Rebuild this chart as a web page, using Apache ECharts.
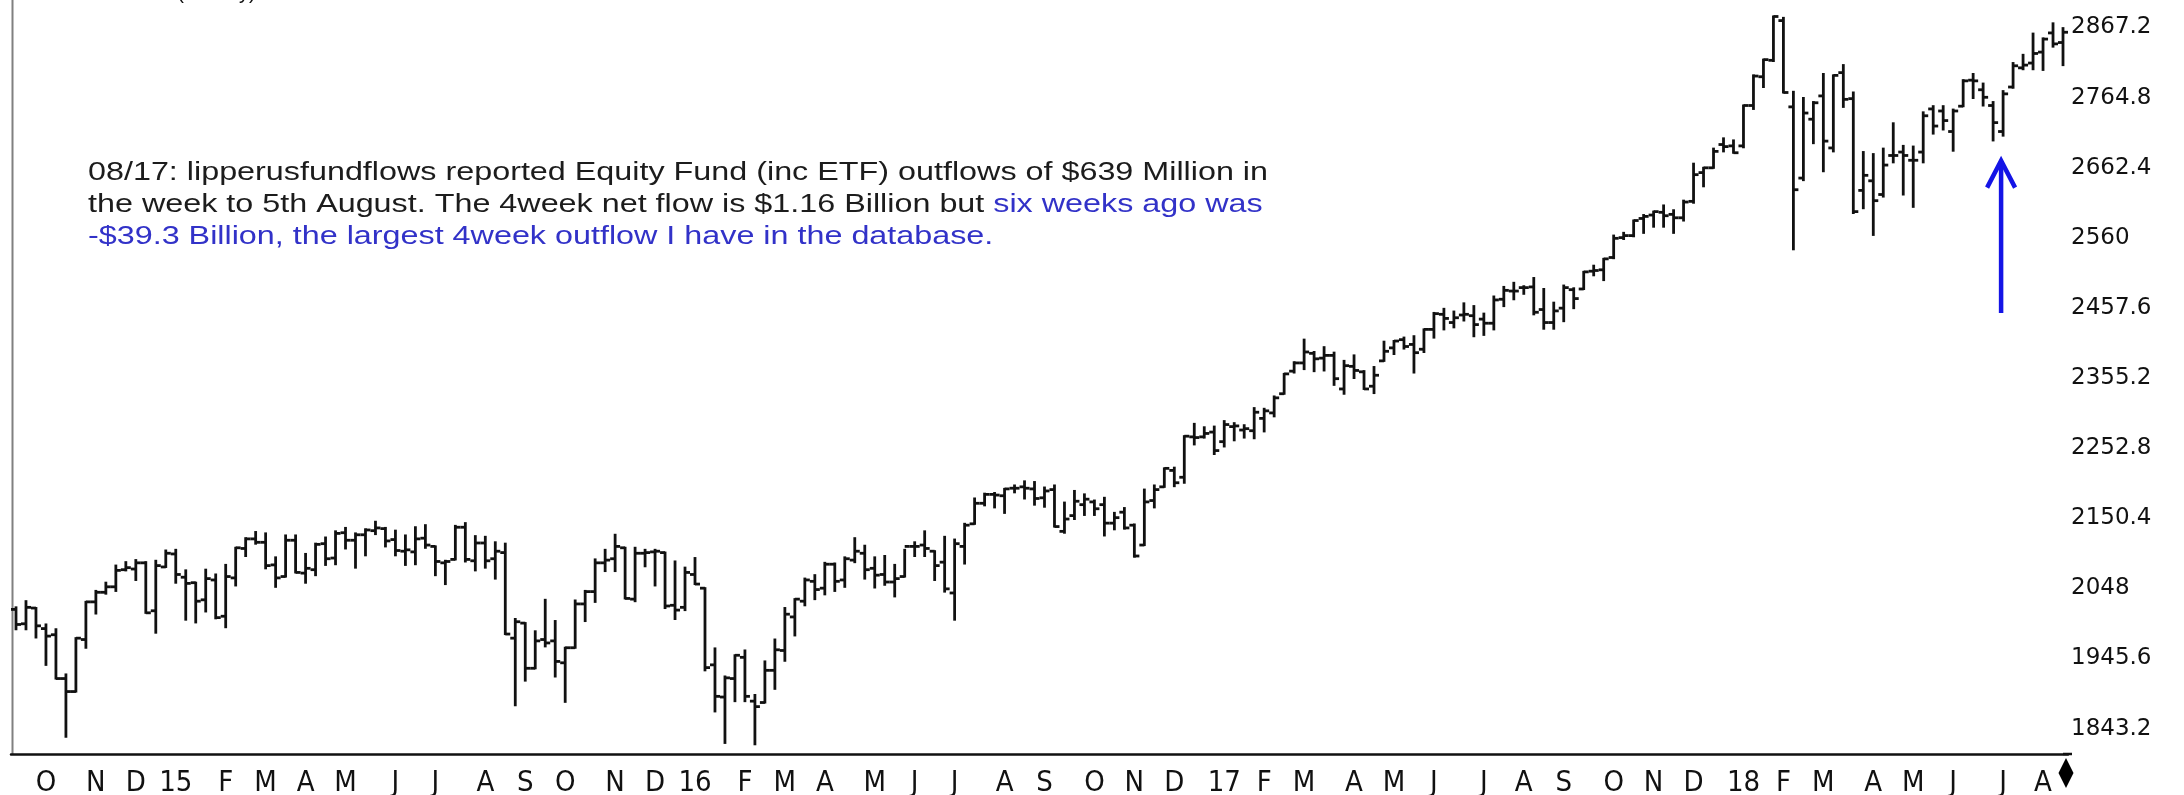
<!DOCTYPE html>
<html>
<head>
<meta charset="utf-8">
<title>S&P 500 weekly</title>
<script src="https://cdn.jsdelivr.net/npm/echarts@6/dist/echarts.min.js"></script>
<style>
  html, body { margin: 0; padding: 0; background: #fff; }
  #chart { width: 2184px; height: 795px; }
</style>
</head>
<body>
<div id="chart"></div>
<script>
// weekly bars, one per week, first week ends 2014-09-12, last ends 2018-08-17
var firstWeek = '2014-09-12'

var opens = [
  2007, 1986, 2009, 1979, 1970, 1906, 1887, 1963, 2018, 2032, 2040, 2065, 2066, 2075, 2005, 2069,
  2088, 2054, 2046, 2021, 2050, 1997, 2053, 2096, 2110, 2105, 2072, 2055, 2108, 2060, 2065, 2103,
  2082, 2119, 2108, 2116, 2122, 2125, 2109, 2092, 2091, 2111, 2099, 2075, 2080, 2127, 2078, 2104,
  2081, 2090, 1965, 1987, 1921, 1963, 1961, 1929, 1951, 2015, 2033, 2075, 2081, 2097, 2022, 2089,
  2091, 2090, 2013, 2010, 2058,
  2038, 1926, 1879, 1906, 1937, 1873, 1871, 1918, 1947, 1996, 2019, 2048, 2038, 2073, 2050, 2079,
  2089, 2067, 2058, 2047, 2055, 2099, 2101, 2092, 2076, 2031, 2099, 2132, 2162, 2175, 2173, 2184,
  2186, 2183, 2170, 2182, 2121, 2144, 2160, 2164, 2160, 2133, 2149, 2130, 2101, 2166, 2186, 2210,
  2200, 2259, 2259, 2266,
  2252, 2274, 2269, 2268, 2286, 2294, 2322, 2355, 2367, 2381, 2374, 2378, 2329, 2362, 2354, 2333,
  2370, 2389, 2401, 2394, 2387, 2416, 2438, 2426, 2437, 2436, 2431, 2425, 2460, 2472, 2477, 2478,
  2445, 2426, 2447, 2474, 2475, 2501, 2503, 2521, 2550, 2553, 2578, 2583, 2587, 2584, 2579, 2603,
  2645, 2652, 2686, 2684,
  2684, 2743, 2785, 2809, 2867, 2741, 2637, 2723, 2757, 2681, 2791, 2753, 2619, 2633, 2613, 2670,
  2675, 2663, 2675, 2738, 2735, 2705, 2742, 2780, 2766, 2743, 2705, 2770, 2798, 2805, 2821, 2849,
  2835
]
var highs = [
  2010, 2019, 2009, 1985, 1978, 1912, 1965, 2018, 2034, 2046, 2071, 2076, 2079, 2076, 2078, 2093,
  2094, 2064, 2046, 2065, 2058, 2072, 2097, 2111, 2120, 2118, 2083, 2115, 2115, 2088, 2103, 2112,
  2121, 2126, 2118, 2124, 2135, 2126, 2122, 2115, 2127, 2130, 2099, 2078, 2129, 2133, 2114, 2113,
  2105, 2103, 1993, 1987, 1975, 2021, 1990, 1951, 2020, 2034, 2080, 2094, 2116, 2097, 2097, 2094,
  2094, 2090, 2077, 2068, 2082,
  2038, 1950, 1909, 1940, 1947, 1882, 1931, 1963, 2009, 2022, 2052, 2057, 2075, 2074, 2083, 2111,
  2100, 2083, 2085, 2072, 2094, 2105, 2121, 2092, 2113, 2109, 2132, 2169, 2176, 2177, 2183, 2188,
  2194, 2193, 2185, 2188, 2163, 2180, 2175, 2166, 2170, 2148, 2155, 2131, 2182, 2188, 2213, 2214,
  2260, 2278, 2273, 2274,
  2282, 2279, 2276, 2301, 2300, 2318, 2351, 2368, 2401, 2383, 2390, 2382, 2370, 2378, 2355, 2361,
  2398, 2399, 2404, 2406, 2416, 2440, 2446, 2442, 2454, 2450, 2439, 2464, 2478, 2484, 2479, 2491,
  2475, 2455, 2480, 2476, 2500, 2509, 2519, 2553, 2557, 2575, 2583, 2588, 2597, 2590, 2604, 2658,
  2652, 2680, 2695, 2692,
  2743, 2787, 2810, 2873, 2871, 2763, 2754, 2748, 2789, 2787, 2802, 2762, 2675, 2672, 2680, 2717,
  2684, 2683, 2733, 2742, 2742, 2737, 2780, 2789, 2775, 2748, 2764, 2805, 2817, 2848, 2841, 2863,
  2856
]
var lows = [
  1978, 1978, 1966, 1926, 1906, 1821, 1887, 1951, 2001, 2030, 2034, 2064, 2050, 2002, 1973, 2069,
  2046, 1992, 1988, 2004, 1994, 1981, 2042, 2085, 2103, 2067, 2040, 2055, 2061, 2046, 2057, 2072,
  2073, 2096, 2068, 2086, 2117, 2099, 2086, 2072, 2073, 2097, 2057, 2044, 2080, 2077, 2064, 2068,
  2052, 1971, 1867, 1903, 1921, 1953, 1909, 1872, 1951, 1990, 2018, 2063, 2063, 2023, 2019, 2070,
  2042, 2009, 1993, 2006, 2044,
  1918, 1858, 1812, 1873, 1873, 1810, 1871, 1891, 1932, 1969, 2013, 2022, 2029, 2034, 2040, 2076,
  2052, 2039, 2043, 2026, 2055, 2085, 2085, 2050, 2033, 1992, 2074, 2132, 2159, 2156, 2148, 2178,
  2169, 2160, 2157, 2128, 2119, 2139, 2145, 2145, 2115, 2124, 2125, 2084, 2101, 2156, 2186, 2187,
  2192, 2248, 2258, 2234,
  2245, 2254, 2258, 2257, 2267, 2289, 2322, 2353, 2358, 2355, 2356, 2335, 2322, 2345, 2329, 2323,
  2370, 2380, 2388, 2353, 2383, 2404, 2416, 2419, 2429, 2406, 2408, 2416, 2450, 2460, 2468, 2438,
  2417, 2417, 2428, 2447, 2475, 2495, 2488, 2520, 2548, 2552, 2557, 2566, 2566, 2557, 2575, 2601,
  2625, 2652, 2676, 2674,
  2682, 2738, 2770, 2808, 2762, 2533, 2634, 2688, 2647, 2676, 2741, 2586, 2593, 2554, 2610, 2660,
  2613, 2595, 2660, 2702, 2708, 2677, 2742, 2754, 2743, 2692, 2699, 2769, 2796, 2796, 2795, 2829,
  2802
]
var closes = [
  1985, 2010, 1983, 1968, 1906, 1887, 1965, 2018, 2032, 2040, 2064, 2068, 2075, 2002, 2071, 2089,
  2058, 2045, 2019, 2052, 1995, 2055, 2097, 2110, 2105, 2071, 2053, 2108, 2061, 2067, 2102, 2081,
  2118, 2108, 2116, 2123, 2126, 2107, 2093, 2094, 2110, 2101, 2077, 2077, 2127, 2080, 2104, 2078,
  2092, 1971, 1989, 1921, 1961, 1958, 1931, 1951, 2015, 2033, 2075, 2079, 2099, 2023, 2089, 2090,
  2092, 2012, 2006, 2061, 2044,
  1922, 1880, 1907, 1940, 1880, 1865, 1918, 1948, 2000, 2022, 2050, 2036, 2073, 2048, 2081, 2092,
  2065, 2057, 2047, 2052, 2099, 2099, 2096, 2071, 2037, 2103, 2130, 2162, 2175, 2174, 2183, 2184,
  2184, 2169, 2180, 2128, 2139, 2165, 2168, 2154, 2133, 2141, 2126, 2085, 2164, 2182, 2213, 2192,
  2260, 2258, 2264, 2239,
  2277, 2275, 2271, 2295, 2297, 2316, 2351, 2367, 2383, 2373, 2378, 2344, 2363, 2356, 2329, 2349,
  2384, 2399, 2391, 2382, 2416, 2439, 2432, 2433, 2438, 2423, 2425, 2459, 2473, 2472, 2477, 2441,
  2426, 2443, 2477, 2461, 2500, 2502, 2519, 2549, 2553, 2575, 2581, 2588, 2582, 2579, 2602, 2642,
  2652, 2676, 2683, 2674,
  2743, 2786, 2810, 2873, 2762, 2620, 2732, 2747, 2691, 2787, 2752, 2588, 2641, 2604, 2656, 2670,
  2670, 2663, 2728, 2713, 2721, 2735, 2779, 2779, 2755, 2718, 2760, 2801, 2802, 2819, 2840, 2833,
  2850
]

// right axis labels
var yTicks = [1843.2, 1945.6, 2048, 2150.4, 2252.8, 2355.2, 2457.6, 2560, 2662.4, 2764.8, 2867.2]
var monthLetters = ['J', 'F', 'M', 'A', 'M', 'J', 'J', 'A', 'S', 'O', 'N', 'D']

var noteLines = [
  [['08/17: lipperusfundflows reported Equity Fund (inc ETF) outflows of $639 Million in', 'k']],
  [['the week to 5th August. The 4week net flow is $1.16 Billion but ', 'k'], ['six weeks ago was', 'b']],
  [['-$39.3 Billion, the largest 4week outflow I have in the database.', 'b']]
]
var arrowWeek = 199          // the week the blue arrow points at
var arrowFrom = 2440
var arrowTo = 2664

// week end dates and month labels
var weeks = []
var labels = []
var t0 = new Date(firstWeek + 'T12:00:00Z').getTime()
for (var i = 0; i < closes.length; i++) {
  var d = new Date(t0 + i * 7 * 86400000)
  weeks.push(d.toISOString().slice(0, 10))
  var m = d.getUTCMonth()
  var prev = i > 0 ? new Date(t0 + (i - 1) * 7 * 86400000).getUTCMonth() : m
  if (i > 0 && m !== prev) {
    labels.push(m === 0 ? String(d.getUTCFullYear()).slice(2) : monthLetters[m])
  } else {
    labels.push('')
  }
}

var bars = weeks.map(function (w, i) {
  return [i, opens[i], highs[i], lows[i], closes[i]]
})

var chart = echarts.init(document.getElementById('chart'))

var barStyle = { stroke: '#111', lineWidth: 2.8 }

function renderBar (params, api) {
  var x = api.value(0)
  var hi = api.coord([x, api.value(2)])
  var lo = api.coord([x, api.value(3)])
  var op = api.coord([x, api.value(1)])
  var cl = api.coord([x, api.value(4)])
  return {
    type: 'group',
    children: [
      { type: 'line', shape: { x1: hi[0], y1: hi[1] - 1, x2: lo[0], y2: lo[1] + 1 }, style: barStyle },
      { type: 'line', shape: { x1: op[0] - 5, y1: op[1], x2: op[0], y2: op[1] }, style: barStyle },
      { type: 'line', shape: { x1: cl[0], y1: cl[1], x2: cl[0] + 5, y2: cl[1] }, style: barStyle }
    ]
  }
}

var showLabel = function (index) { return labels[index] !== '' }

chart.setOption({
  animation: false,
  backgroundColor: '#fff',
  grid: { left: 11, top: 0, width: 2057, height: 754, containLabel: false, outerBoundsMode: 'none' },
  xAxis: {
    type: 'category',
    data: weeks,
    boundaryGap: true,
    axisLine: { lineStyle: { color: '#111', width: 2.5 } },
    axisTick: { alignWithLabel: true, interval: showLabel, length: 8, lineStyle: { color: '#111', width: 1.5 } },
    axisLabel: {
      interval: showLabel,
      showMinLabel: true,
      showMaxLabel: true,
      formatter: function (value, index) { return labels[index] },
      color: '#111',
      fontSize: 29,
      fontFamily: "'Liberation Sans Narrow', 'Arial Narrow', 'DejaVu Sans Condensed', 'Liberation Sans', sans-serif",
      margin: 15
    },
    splitLine: { show: false }
  },
  yAxis: {
    type: 'value',
    position: 'right',
    min: 1795.8,
    max: 2897.1,
    axisLine: { show: false },
    axisTick: { show: false },
    splitLine: { show: false },
    axisLabel: {
      customValues: yTicks,
      formatter: function (v) { return String(v) },
      color: '#111',
      fontSize: 23,
      fontFamily: "'DejaVu Sans', sans-serif",
      margin: 3,
      verticalAlign: 'top',
      lineHeight: 14
    }
  },
  series: [{
    type: 'custom',
    renderItem: renderBar,
    data: bars,
    encode: { x: 0, y: [1, 2, 3, 4] },
    clip: false
  }]
})

// annotation text, squeezed to the width of the note in the picture
var noteFont = "26px 'Liberation Sans', Arial, sans-serif"
var ctx = document.createElement('canvas').getContext('2d')
ctx.font = noteFont
var noteScale = 1180 / ctx.measureText(noteLines[0][0][0]).width

var graphics = []
graphics.push({
  type: 'line', silent: true,
  shape: { x1: 12.5, y1: 0, x2: 12.5, y2: 755 },
  style: { stroke: '#808080', lineWidth: 2 }
})
graphics.push({
  type: 'text', x: 26, y: -7, silent: true,
  style: { text: 'S&P 500 INDEX (Weekly)', font: "20px 'Liberation Sans', Arial, sans-serif", fill: '#111', verticalAlign: 'middle' }
})
noteLines.forEach(function (line, k) {
  graphics.push({
    type: 'text', x: 88, y: 173 + k * 32, scaleX: noteScale, silent: true,
    style: {
      text: line.map(function (p) { return '{' + p[1] + '|' + p[0] + '}' }).join(''),
      font: noteFont,
      verticalAlign: 'middle',
      rich: {
        k: { fill: '#1c1c1c', color: '#1c1c1c', font: noteFont },
        b: { fill: '#3232c8', color: '#3232c8', font: noteFont }
      }
    }
  })
})

var tip = chart.convertToPixel({ xAxisIndex: 0, yAxisIndex: 0 }, [arrowWeek, arrowTo])
var tail = chart.convertToPixel({ xAxisIndex: 0, yAxisIndex: 0 }, [arrowWeek, arrowFrom])
var ax = tip[0] - 2
var arrowStyle = { stroke: '#1414e6', lineWidth: 4.5, fill: null }
graphics.push({ type: 'line', silent: true, shape: { x1: ax, y1: tip[1] + 2, x2: ax, y2: tail[1] }, style: arrowStyle })
graphics.push({ type: 'polyline', silent: true, shape: { points: [[ax - 14, tip[1] + 28], [ax, tip[1] + 1], [ax + 14, tip[1] + 28]] }, style: arrowStyle })

// current week marker at the end of the date axis
var last = chart.convertToPixel({ xAxisIndex: 0, yAxisIndex: 0 }, [closes.length - 1, 1795.8])
var cx = last[0] + 3
var cy = last[1] + 19
graphics.push({
  type: 'line', silent: true,
  shape: { x1: last[0], y1: last[1], x2: cx + 6, y2: last[1] },
  style: { stroke: '#111', lineWidth: 2.5 }
})
graphics.push({
  type: 'polygon', silent: true,
  shape: { points: [[cx, cy - 15], [cx + 7.5, cy], [cx, cy + 15], [cx - 7.5, cy]] },
  style: { fill: '#000' }
})

chart.setOption({ graphic: graphics })
</script>
</body>
</html>
